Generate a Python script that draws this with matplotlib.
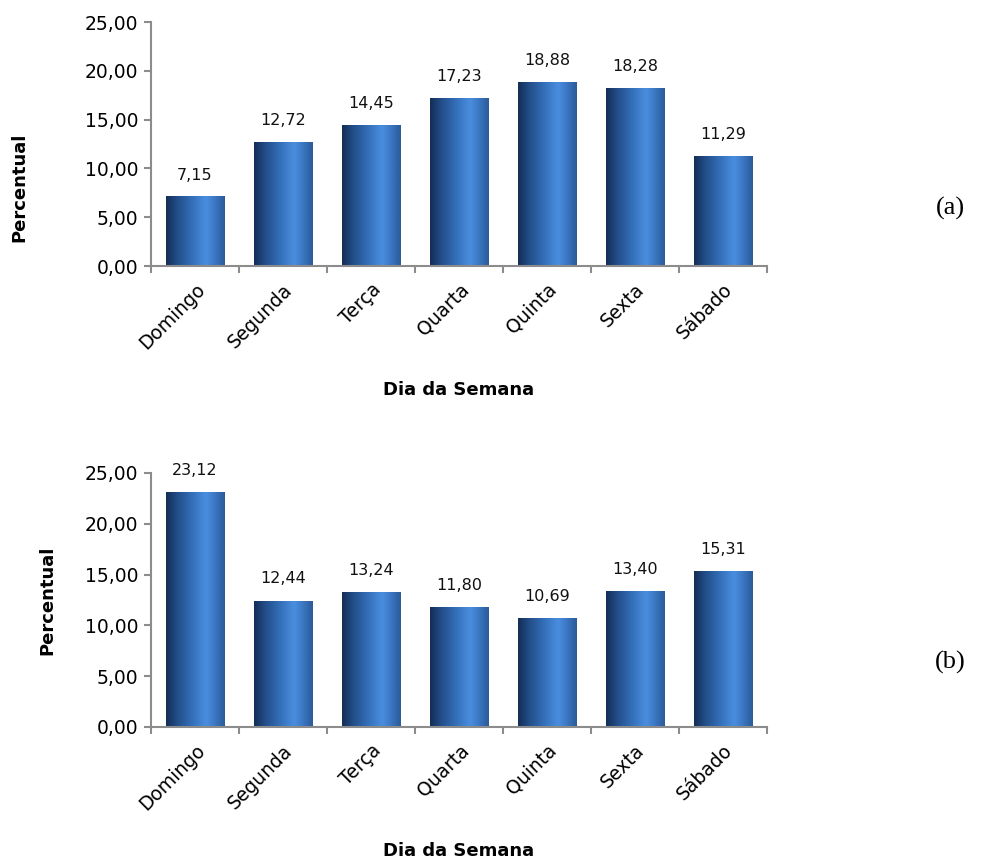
import numpy as np
import matplotlib
matplotlib.use("Agg")
import matplotlib.pyplot as plt
from matplotlib.colors import LinearSegmentedColormap

categories = ["Domingo", "Segunda", "Terça", "Quarta", "Quinta", "Sexta", "Sábado"]
values_a = [7.15, 12.72, 14.45, 17.23, 18.88, 18.28, 11.29]
values_b = [23.12, 12.44, 13.24, 11.80, 10.69, 13.40, 15.31]
yticks = [0, 5, 10, 15, 20, 25]
panel_labels = ["(a)", "(b)"]

plt.rcParams['font.family'] = ['DejaVu Sans']

fig = plt.figure(figsize=(9.95, 8.61), dpi=100)
W, H = 995, 861

cmap = LinearSegmentedColormap.from_list(
    "bar", [(0.0, "#132d55"), (0.18, "#224c86"), (0.45, "#3470ba"),
            (0.68, "#4a8ee0"), (0.85, "#3a74bf"), (1.0, "#2b5a98")])
grad = np.linspace(0, 1, 256).reshape(1, -1)

def fmt(v):
    return f"{v:.2f}".replace(".", ",")

def panel(rect_px, values, label, label_y):
    l, b, r, t = rect_px
    ax = fig.add_axes([l / W, 1 - b / H, (r - l) / W, (b - t) / H])
    x = np.arange(len(categories))
    bars = ax.bar(x, values, width=0.66, color="none", edgecolor="none", zorder=2)
    for bar, v in zip(bars, values):
        x0, w, h = bar.get_x(), bar.get_width(), bar.get_height()
        im = ax.imshow(grad, cmap=cmap, aspect="auto", extent=[x0, x0 + w, 0, h],
                       zorder=2, interpolation="bicubic")
        im.set_clip_path(bar)
        ax.text(x0 + w / 2, h + 1.4, fmt(v), ha="center", va="bottom", fontsize=11.5, color="#111111")
    ax.set_xlim(-0.5, len(categories) - 0.5)
    ax.set_ylim(0, 25)
    ax.set_yticks(yticks)
    ax.set_yticklabels([fmt(v) for v in yticks], fontsize=13.5)
    ax.set_xticks(np.arange(len(categories) + 1) - 0.5, minor=False)
    ax.set_xticklabels([])
    ax.set_xticks(x, minor=True)
    ax.set_xticklabels(categories, minor=True, rotation=45, ha="right", va="top",
                       rotation_mode="anchor", fontsize=13.5)
    ax.tick_params(axis="x", which="minor", length=0, pad=10)
    ax.tick_params(axis="x", which="major", length=5, color="#8c8c8c", width=1.5)
    ax.tick_params(axis="y", length=5, color="#8c8c8c", width=1.5, pad=4)
    for s in ["top", "right"]:
        ax.spines[s].set_visible(False)
    for s in ["left", "bottom"]:
        ax.spines[s].set_color("#8c8c8c")
        ax.spines[s].set_linewidth(1.5)
    ax.set_ylabel("Percentual", fontsize=13, fontweight="bold")
    ax.set_xlabel("Dia da Semana", fontsize=13, fontweight="bold")
    fig.text(950 / W, 1 - label_y / H, label, fontsize=19, family="Liberation Serif",
             ha="center", va="center")
    return ax

ax1 = panel((151, 266, 767, 22), values_a, panel_labels[0], 208)
ax2 = panel((151, 727, 767, 473), values_b, panel_labels[1], 662)
ax1.yaxis.set_label_coords(-0.199, (266 - 187) / 244)
ax2.yaxis.set_label_coords(-0.154, 0.5)
ax1.xaxis.set_label_coords((459 - 151) / 616, -(390 - 266) / 244)
ax2.xaxis.set_label_coords((459 - 151) / 616, -(851 - 727) / 254)
ax1.xaxis.label.set_va("center")
ax2.xaxis.label.set_va("center")

fig.savefig("out.png", dpi=100, facecolor="white")
